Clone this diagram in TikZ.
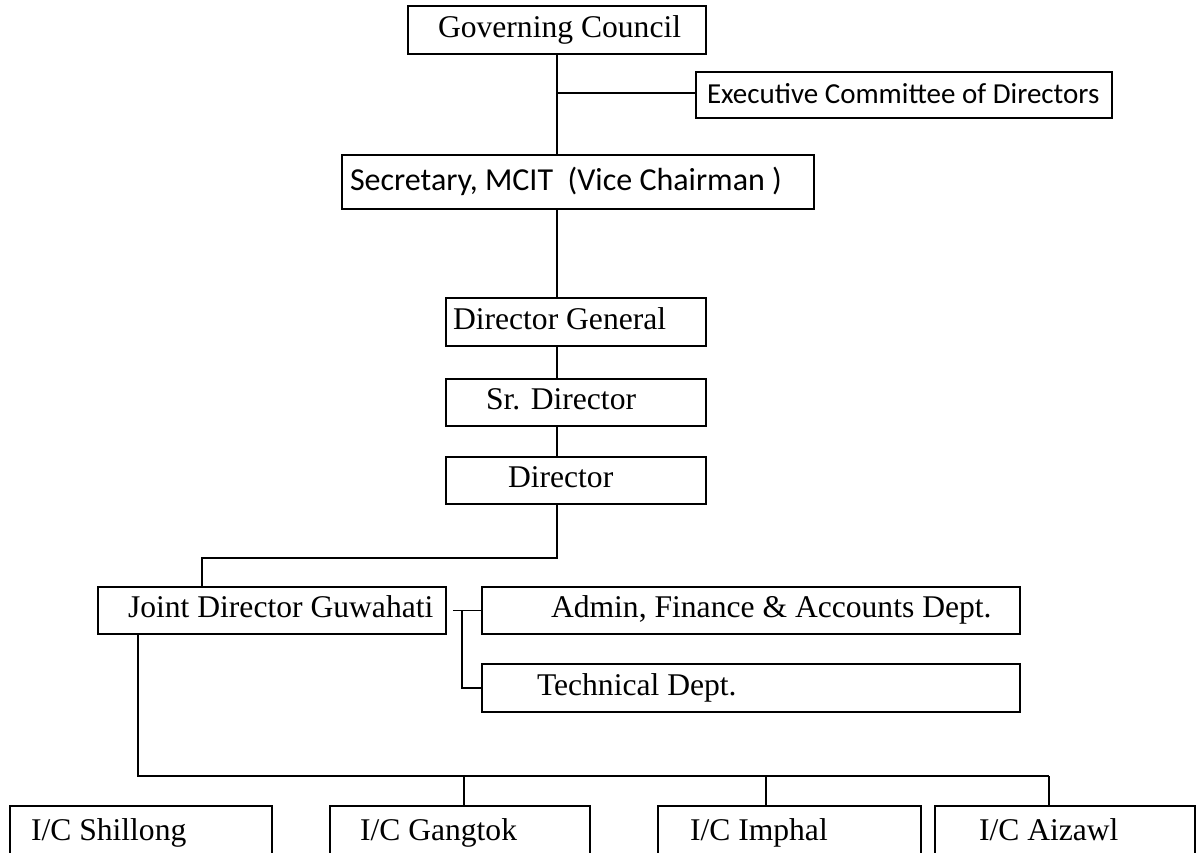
\documentclass[tikz,border=0pt]{standalone}
\usepackage{fontspec}
\setmainfont{Liberation Serif}
\newfontfamily\calfont{Carlito}
\newcommand\orgbox[3]{\makebox[#1pt][l]{\hspace*{#2pt}#3}}
\newcommand\tnrsize{\fontsize{31.6}{36}\selectfont}
\newcommand\calsize{\calfont\fontsize{29}{34}\selectfont}
\newcommand\calbig{\calfont\fontsize{32}{36}\selectfont}
\begin{document}
\begin{tikzpicture}[x=1pt,y=-1pt,
  box/.style={draw, line width=1.7pt, inner sep=0pt, text height=22.1pt, text depth=7.9pt, font=\tnrsize},
  cbox/.style={box, font=\calsize, text height=20.3pt, text depth=4.3pt},
  sbox/.style={box, font=\calbig, text height=22.4pt, text depth=6.4pt},
  lowbox/.style={draw, line width=1.7pt, inner xsep=0pt, inner ysep=12.9pt, text height=22.1pt, text depth=60pt, anchor=north, font=\tnrsize},
  link/.style={line width=1.7pt}]
\useasboundingbox (0,0) rectangle (1197,852);
\clip (0,0) rectangle (1197,852);
\fill[white] (0,0) rectangle (1197,852);

\node[box, minimum height=48pt] (gc) at (557,30) {\orgbox{298}{30}{Governing Council}};
\node[cbox, minimum height=46pt] (exec) at (904,95) {\orgbox{416}{11}{Executive Committee of Directors}};
\node[sbox, minimum height=54pt] (sec) at (578,182) {\orgbox{472}{8}{Secretary, MCIT\ \ (Vice Chairman\ )}};
\node[box, minimum height=48pt] (dg) at (576,322) {\orgbox{260}{7}{Director General}};
\node[box, minimum height=47pt] (sr) at (576,402.5) {\orgbox{260}{40}{Sr. Director}};
\node[box, minimum height=47pt] (dir) at (576,480.5) {\orgbox{260}{62}{Director}};
\node[box, minimum height=47pt] (jd) at (272,610.5) {\orgbox{348}{30}{Joint Director Guwahati}};
\node[box, minimum height=47pt] (adm) at (751,610.5) {\orgbox{538}{69}{Admin, Finance \& Accounts Dept.}};
\node[box, minimum height=48pt] (tech) at (751,688) {\orgbox{538}{55}{Technical Dept.}};

\node[lowbox] (shl) at (141,805) {\orgbox{262}{21}{I/C Shillong}};
\node[lowbox] (gtk) at (460,805) {\orgbox{260}{30}{I/C Gangtok}};
\node[lowbox] (imp) at (789.5,805) {\orgbox{263}{32}{I/C Imphal}};
\node[lowbox] (aiz) at (1065,805) {\orgbox{260}{44}{I/C Aizawl}};

% spine
\coordinate (spine) at (557,0);
\coordinate (j1) at (557,93);
\draw[link] (spine |- gc.south) -- (spine |- sec.north);
\draw[link] (j1) -- (j1 -| exec.west);
\draw[link] (spine |- sec.south) -- (spine |- dg.north);
\draw[link] (spine |- dg.south) -- (spine |- sr.north);
\draw[link] (spine |- sr.south) -- (spine |- dir.north);
\coordinate (k) at (202,558);
\draw[link] (spine |- dir.south) -- (spine |- k) -- (k) -- (k |- jd.north);

% departments
\coordinate (t1) at (462,0);
\draw[link] ([xshift=6pt]jd.east) -- (adm.west);
\draw[link] (t1 |- adm.west) -- (t1 |- tech.west) -- (tech.west);

% bus to branches
\coordinate (bus) at (138,776);
\coordinate (d1) at (464,776);
\coordinate (d2) at (766,776);
\coordinate (d3) at (1049,776);
\draw[link] (bus |- jd.south) -- (bus) -- (d3);
\draw[link] (d1) -- (d1 |- gtk.north);
\draw[link] (d2) -- (d2 |- imp.north);
\draw[link] (d3) -- (d3 |- aiz.north);
\end{tikzpicture}
\end{document}
